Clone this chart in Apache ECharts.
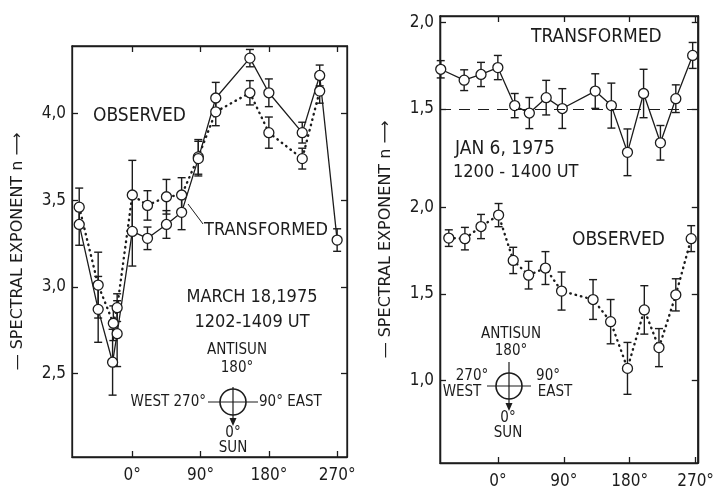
<!DOCTYPE html>
<html>
<head>
<meta charset="utf-8">
<script src="https://cdn.jsdelivr.net/npm/echarts@6/dist/echarts.min.js"></script>
<style>html,body{margin:0;background:#fff}#chart{width:717px;height:492px}</style>
</head>
<body>
<div id="chart"></div>
<script>
// angle ticks (deg)
const xTicks = [0, 90, 180, 270];

// left panel, March 18 1975
const marObsDeg = [-70, -45, -25, -20, 0, 20, 45, 65, 87, 110, 155, 180, 224, 247];
const marObsN   = [3.46, 3.01, 2.79, 2.88, 3.53, 3.47, 3.52, 3.53, 3.75, 4.01, 4.12, 3.89, 3.74, 4.13];
const marObsErr = [0.11, 0.19, 0.1, 0.08, 0.2, 0.085, 0.1, 0.1, 0.1, 0.08, 0.07, 0.09, 0.06, 0.07];
const marTrDeg  = [-70, -45, -26, -20, 0, 20, 45, 65, 87, 110, 155, 180, 224, 247, 270];
const marTrN    = [3.36, 2.87, 2.565, 2.73, 3.32, 3.28, 3.36, 3.43, 3.74, 4.09, 4.32, 4.12, 3.89, 4.22, 3.27];
const marTrErr  = [0.12, 0.19, 0.19, 0.19, 0.2, 0.065, 0.08, 0.1, 0.1, 0.09, 0.05, 0.08, 0.06, 0.06, 0.065];
const marTicks  = [2.5, 3.0, 3.5, 4.0];

// right panel, Jan 6 1975
const janTrDeg  = [-78, -46, -23, 0, 23, 43, 66, 88, 133, 155, 177, 199, 222, 243, 266];
const janTrN    = [1.73, 1.667, 1.70, 1.74, 1.52, 1.477, 1.566, 1.503, 1.604, 1.52, 1.25, 1.59, 1.305, 1.56, 1.81];
const janTrErr  = [0.05, 0.06, 0.07, 0.07, 0.07, 0.09, 0.1, 0.115, 0.1, 0.13, 0.135, 0.14, 0.1, 0.08, 0.075];
const janObsDeg = [-67, -45, -23, 1, 21, 42, 65, 87, 130, 154, 177, 200, 220, 243, 264];
const janObsN   = [1.823, 1.82, 1.89, 1.956, 1.694, 1.609, 1.65, 1.517, 1.468, 1.34, 1.07, 1.408, 1.19, 1.495, 1.82];
const janObsErr = [0.048, 0.065, 0.07, 0.067, 0.076, 0.08, 0.095, 0.11, 0.115, 0.128, 0.15, 0.14, 0.11, 0.093, 0.075];
const janObsTicks = [1.0, 1.5, 2.0];
const janTrTicks  = [1.5, 2.0];
const janRef = 1.5;

const INK = '#1c1c1c';
const FONT = '"DejaVu Sans Condensed", "DejaVu Sans", sans-serif';
const FONT_N = '"DejaVu Sans", sans-serif';

function zip(a, b, c) {
    return a.map(function (v, i) { return c ? [v, b[i], c[i]] : [v, b[i]]; });
}
function comma(v) { return v.toFixed(1).replace('.', ','); }

function errorBars(params, api) {
    var x = api.value(0), y = api.value(1), e = api.value(2);
    var hi = api.coord([x, y + e]);
    var lo = api.coord([x, y - e]);
    var w = 4;
    var st = {stroke: INK, lineWidth: 1.4};
    return {type: 'group', children: [
        {type: 'line', shape: {x1: hi[0], y1: hi[1], x2: lo[0], y2: lo[1]}, style: st},
        {type: 'line', shape: {x1: hi[0] - w, y1: hi[1], x2: hi[0] + w, y2: hi[1]}, style: st},
        {type: 'line', shape: {x1: lo[0] - w, y1: lo[1], x2: lo[0] + w, y2: lo[1]}, style: st}
    ]};
}

function xAxis(grid, min, max, pos) {
    return {
        type: 'value', gridIndex: grid, min: min, max: max, position: pos,
        axisLine: {show: true, onZero: false, lineStyle: {color: INK, width: 1.3}},
        axisTick: {show: true, inside: true, length: 6, customValues: xTicks, lineStyle: {color: INK, width: 1.3}},
        axisLabel: {show: pos == 'bottom', customValues: xTicks, formatter: function (v) { return v + '°'; },
            color: INK, fontSize: 17, fontFamily: FONT, margin: 10},
        splitLine: {show: false}
    };
}
function yAxis(grid, min, max, pos, ticks, labels, name) {
    return {
        type: 'value', gridIndex: grid, min: min, max: max, position: pos, offset: 0,
        name: name || '', nameLocation: 'middle', nameRotate: 90, nameGap: 46,
        nameTextStyle: {color: INK, fontSize: 16, fontFamily: FONT_N},
        axisLine: {show: true, onZero: false, lineStyle: {color: INK, width: 1.3}},
        axisTick: {show: true, inside: true, length: 6, customValues: ticks, lineStyle: {color: INK, width: 1.3}},
        axisLabel: {show: labels, customValues: ticks, formatter: comma, color: INK, fontSize: 17, fontFamily: FONT, margin: 6},
        splitLine: {show: false}
    };
}

function lineSeries(xi, yi, data, dotted) {
    return {
        type: 'line', xAxisIndex: xi, yAxisIndex: yi, data: data, silent: true, z: 3,
        symbol: 'circle', symbolSize: 10,
        itemStyle: {color: '#fff', borderColor: INK, borderWidth: 1.3},
        lineStyle: dotted ? {color: INK, width: 2.4, type: [0.5, 5], cap: 'round'} : {color: INK, width: 1.3}
    };
}
function errSeries(xi, yi, data) {
    return {type: 'custom', xAxisIndex: xi, yAxisIndex: yi, data: data, silent: true, z: 2,
        encode: {x: 0, y: 1}, renderItem: errorBars};
}

function label(text, x, y, size, align) {
    return {type: 'text', x: x, y: y, silent: true, style: {
        text: text, fill: INK, fontSize: size, fontFamily: FONT,
        textAlign: align || 'left', textVerticalAlign: 'middle', align: align || 'left', verticalAlign: 'middle'}};
}
function seg(x1, y1, x2, y2, w) {
    return {type: 'line', silent: true, shape: {x1: x1, y1: y1, x2: x2, y2: y2}, style: {stroke: INK, lineWidth: w || 1.3}};
}
function compass(cx, cy, r, hw, top, bottom) {
    return [
        {type: 'circle', silent: true, shape: {cx: cx, cy: cy, r: r}, style: {fill: 'none', stroke: INK, lineWidth: 1.6}},
        seg(cx - hw, cy, cx + hw, cy, 1.2),
        seg(cx, top, cx, bottom - 6, 1.2),
        {type: 'polygon', silent: true, shape: {points: [[cx - 3.5, bottom - 8], [cx + 3.5, bottom - 8], [cx, bottom]]}, style: {fill: INK}}
    ];
}

var chart = echarts.init(document.getElementById('chart'));
var yName = '— SPECTRAL EXPONENT n ⟶';

var option = {
    backgroundColor: '#ffffff',
    animation: false,
    grid: [
        {left: 72, top: 46, width: 275, height: 411, show: true, borderColor: INK, borderWidth: 1.3},
        {left: 440, top: 16, width: 268, height: 447, show: true, borderColor: INK, borderWidth: 1.3}
    ],
    xAxis: [
        xAxis(0, -79.5, 283, 'bottom'),
        xAxis(0, -79.5, 283, 'top'),
        xAxis(1, -79, 273, 'bottom'),
        xAxis(1, -79, 273, 'top')
    ],
    yAxis: [
        yAxis(0, 2.018, 4.39, 'left', marTicks, true, yName),
        yAxis(0, 2.018, 4.39, 'right', marTicks, false),
        yAxis(1, 0.523, 3.107, 'left', janObsTicks, true, yName),
        yAxis(1, -0.546, 2.038, 'left', janTrTicks, true),
        yAxis(1, 0.523, 3.107, 'right', janObsTicks, false),
        yAxis(1, -0.546, 2.038, 'right', janTrTicks, false)
    ],
    series: [
        errSeries(0, 0, zip(marObsDeg, marObsN, marObsErr)),
        errSeries(0, 0, zip(marTrDeg, marTrN, marTrErr)),
        lineSeries(0, 0, zip(marObsDeg, marObsN), true),
        lineSeries(0, 0, zip(marTrDeg, marTrN), false),
        errSeries(2, 2, zip(janObsDeg, janObsN, janObsErr)),
        errSeries(2, 3, zip(janTrDeg, janTrN, janTrErr)),
        lineSeries(2, 2, zip(janObsDeg, janObsN), true),
        Object.assign(lineSeries(2, 3, zip(janTrDeg, janTrN), false), {
            markLine: {symbol: 'none', silent: true, label: {show: false},
                lineStyle: {color: INK, width: 1.1, type: [11, 8]}, data: [{yAxis: janRef}]}
        })
    ],
    graphic: [
        label('OBSERVED', 93, 116, 19),
        label('TRANSFORMED', 204, 230, 18),
        seg(188, 204, 203, 224, 1),
        label('MARCH 18,1975', 252, 297, 18, 'center'),
        label('1202-1409 UT', 252, 322, 18, 'center'),
        label('ANTISUN', 237, 350, 15, 'center'),
        label('180°', 237, 368, 15, 'center'),
        label('WEST 270°', 206, 402, 15, 'right'),
        label('90° EAST', 259, 402, 15, 'left'),
        label('0°', 233, 433, 15, 'center'),
        label('SUN', 233, 448, 15, 'center'),

        label('TRANSFORMED', 531, 37, 19),
        label('JAN 6, 1975', 455, 149, 19),
        label('1200 - 1400 UT', 453, 172, 18),
        label('OBSERVED', 572, 240, 19),
        label('ANTISUN', 511, 334, 15, 'center'),
        label('180°', 511, 351, 15, 'center'),
        label('270°', 472, 376, 15, 'center'),
        label('WEST', 462, 392, 15, 'center'),
        label('90°', 548, 376, 15, 'center'),
        label('EAST', 555, 392, 15, 'center'),
        label('0°', 508, 418, 15, 'center'),
        label('SUN', 508, 433, 15, 'center')
    ].concat(compass(233, 402, 13, 25, 387, 426), compass(509, 386, 13, 22, 362, 411))
};
chart.setOption(option);
</script>
</body>
</html>
